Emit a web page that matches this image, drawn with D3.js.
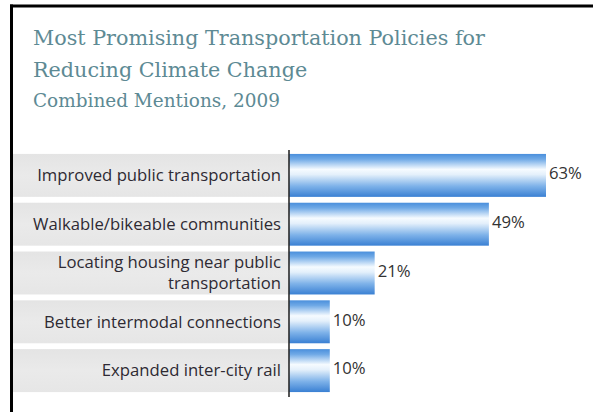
<!DOCTYPE html>
<html><head><meta charset="utf-8">
<script src="https://cdn.jsdelivr.net/npm/d3@7"></script>
<style>html,body{margin:0;padding:0;background:#fff;}svg{display:block;}</style>
</head><body>
<svg id="chart" width="593" height="412"></svg>
<script>
const categories = [
  ["Improved public transportation"],
  ["Walkable/bikeable communities"],
  ["Locating housing near public", "transportation"],
  ["Better intermodal connections"],
  ["Expanded inter-city rail"]
];
const values = [63, 49, 21, 10, 10];
const valueLabels = ["63%", "49%", "21%", "10%", "10%"];
const titleLines = ["Most Promising Transportation Policies for", "Reducing Climate Change"];
const subtitle = "Combined Mentions, 2009";

const svg = d3.select("#chart");
const W = 593, H = 412;
const axisX = 289;

const defs = svg.append("defs");
const grad = defs.append("linearGradient").attr("id","barGrad").attr("x1",0).attr("y1",0).attr("x2",0).attr("y2",1);
[["0%","#4a8fdc"],["12%","#6fa9e6"],["36%","#f6fbff"],["48%","#e4f0fb"],["75%","#7eb2e9"],["100%","#3a80d3"]]
  .forEach(([o,c])=>grad.append("stop").attr("offset",o).attr("stop-color",c));
const ggrad = defs.append("linearGradient").attr("id","grayGrad").attr("x1",0).attr("y1",0).attr("x2",0).attr("y2",1);
[["0%","#e4e4e4"],["50%","#eaeaea"],["100%","#e6e6e6"]]
  .forEach(([o,c])=>ggrad.append("stop").attr("offset",o).attr("stop-color",c));

svg.append("rect").attr("width",W).attr("height",H).attr("fill","#fff");

// frame
svg.append("line").attr("x1",10).attr("x2",W).attr("y1",6).attr("y2",6).attr("stroke","#000").attr("stroke-width",3);
svg.append("line").attr("x1",11.5).attr("x2",11.5).attr("y1",4.5).attr("y2",H).attr("stroke","#000").attr("stroke-width",3);

function fitText(sel, target){
  const len = sel.node().getComputedTextLength();
  const fs = parseFloat(sel.attr("font-size"));
  sel.attr("font-size", fs*target/len);
  return fs*target/len;
}
const tcol = "#5d8a94";
const t1 = svg.append("text").attr("x",33).attr("y",45).attr("font-family","DejaVu Serif").attr("font-size",19).attr("fill",tcol).text(titleLines[0]);
fitText(t1, 452);
svg.append("text").attr("x",33).attr("y",77).attr("font-family","DejaVu Serif").attr("font-size",t1.attr("font-size")).attr("fill",tcol).text(titleLines[1]);
const t3 = svg.append("text").attr("x",33).attr("y",107).attr("font-family","DejaVu Serif").attr("font-size",16).attr("fill",tcol).text(subtitle);
fitText(t3, 247);

const y = d3.scaleBand().domain(d3.range(values.length)).range([151, 395]).paddingInner(0.12).paddingOuter(0.06);
const x = d3.scaleLinear().domain([0, 63]).range([axisX, 546]);

svg.selectAll("rect.band").data(values).join("rect").attr("class","band")
  .attr("x",13).attr("width",axisX-13)
  .attr("y",(d,i)=>y(i)).attr("height",y.bandwidth())
  .attr("fill","url(#grayGrad)");

svg.selectAll("rect.bar").data(values).join("rect").attr("class","bar")
  .attr("x",x(0)).attr("y",(d,i)=>y(i))
  .attr("width",d=>x(d)-x(0)).attr("height",y.bandwidth())
  .attr("fill","url(#barGrad)");

const lf = "Open Sans, Noto Sans, sans-serif";
// measure label size so the first label spans the reference width
const probe = svg.append("text").attr("font-family",lf).attr("font-size",15).text(categories[0][0]);
const lfs = fitText(probe, 244);
probe.remove();

categories.forEach((lines,i)=>{
  const cy = y(i) + y.bandwidth()/2;
  const lh = 21;
  lines.forEach((ln,j)=>{
    svg.append("text").attr("x",281).attr("y",cy + (j-(lines.length-1)/2)*lh)
      .attr("dy","0.35em").attr("text-anchor","end")
      .attr("font-family",lf).attr("font-size",lfs).attr("fill","#2e2a33").text(ln);
  });
});

svg.selectAll("text.val").data(values).join("text").attr("class","val")
  .attr("x",d=>x(d)+3).attr("y",(d,i)=>y(i)+y.bandwidth()/2 - 2)
  .attr("dy","0.35em").attr("font-family",lf).attr("font-size",lfs).attr("fill","#333")
  .text((d,i)=>valueLabels[i]);

svg.append("line").attr("x1",axisX).attr("x2",axisX).attr("y1",150).attr("y2",397)
  .attr("stroke","#2a2a2a").attr("stroke-width",1.6);
</script>
</body></html>
